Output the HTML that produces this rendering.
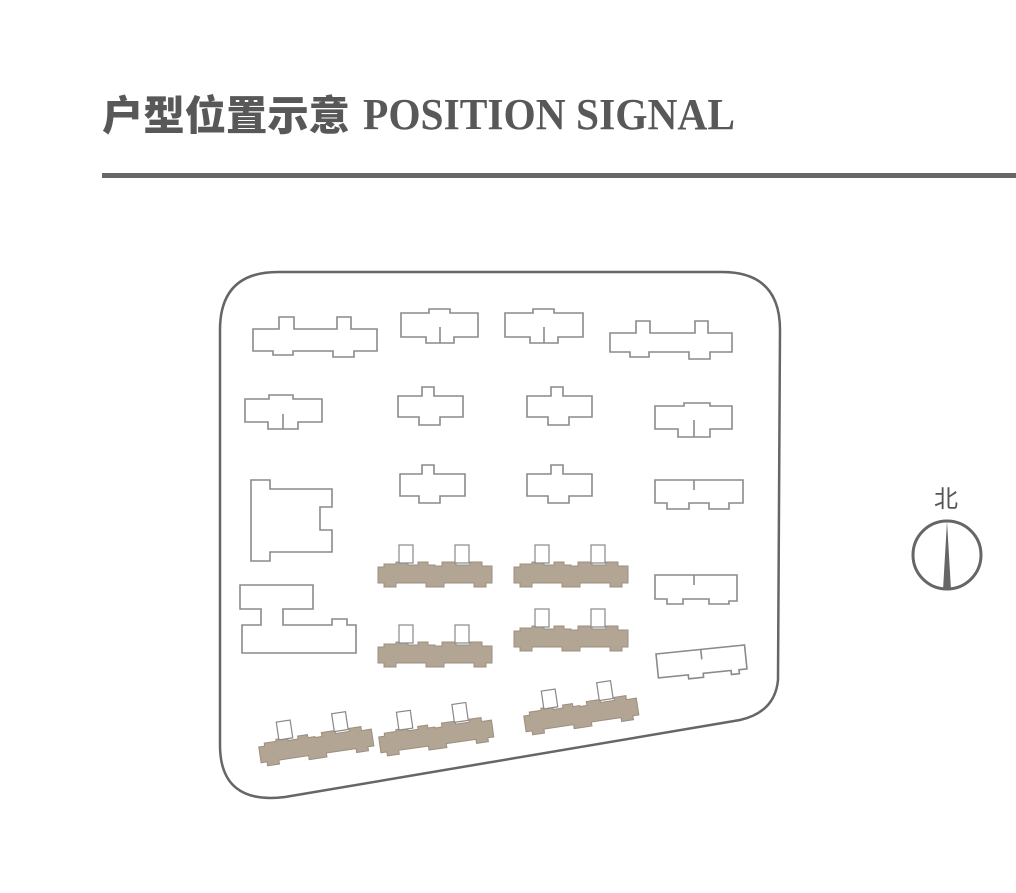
<!DOCTYPE html>
<html><head><meta charset="utf-8"><style>
html,body{margin:0;padding:0;background:#fff;}
svg{display:block;}
</style></head><body>
<svg width="1016" height="893" viewBox="0 0 1016 893" xmlns="http://www.w3.org/2000/svg">
<defs>
<g id="bb">
<path d="M0,5 L6,5 L6,2 L18,2 L18,0 L30,0 L30,3 L40,3 L40,0 L50,0 L50,3 L57,3 L57,4 L64,4 L64,0 L78,0 L78,3 L92,3 L92,0 L104,0 L104,4 L114,4 L114,21 L108,21 L108,25 L96,25 L96,21 L66,21 L66,25 L48,25 L48,21 L18,21 L18,25 L6,25 L6,21 L0,21 Z" fill="#b3a593" stroke="#9c8f80" stroke-width="1"/>
<rect x="21" y="-17" width="14" height="18" fill="#fff" stroke="#888" stroke-width="1.2"/>
<rect x="77" y="-17" width="14" height="18" fill="#fff" stroke="#888" stroke-width="1.2"/>
</g>
</defs>
<text x="102" y="130" font-family="'Noto Sans CJK SC','WenQuanYi Zen Hei',sans-serif" font-weight="900" font-size="41" fill="#585858" textLength="248" lengthAdjust="spacingAndGlyphs">户型位置示意</text>
<text x="363" y="129" font-family="'Liberation Serif',serif" font-weight="bold" font-size="44" fill="#585858" textLength="372" lengthAdjust="spacingAndGlyphs">POSITION SIGNAL</text>
<rect x="102" y="173" width="914" height="5" fill="#666"/>

<path d="M220,330 Q220,272 278,272 L722,272 Q780,272 780,330 L778,680 Q775,712 740,720 L285,797 Q220,805 220,745 Z" fill="none" stroke="#666" stroke-width="2.5"/>

<g fill="#fff" stroke="#8a8a8a" stroke-width="1.6">
<polygon points="253,329 279,329 279,317 294,317 294,329 337,329 337,317 351,317 351,329 377,329 377,351 354,351 354,357 333,357 333,351 293,351 293,355 273,355 273,351 253,351"/>
<polygon points="610,333 636,333 636,321 650,321 650,333 695,333 695,321 708,321 708,333 732,333 732,352 710,352 710,359 689,359 689,352 649,352 649,357 630,357 630,352 610,352"/>
<polygon points="401,313 429,313 429,309 450,309 450,313 478,313 478,337 454,337 454,343 426,343 426,337 401,337"/>
<line x1="440" y1="327" x2="440" y2="343"/>
<polygon points="505,313 533,313 533,309 554,309 554,313 583,313 583,337 558,337 558,343 530,343 530,337 505,337"/>
<line x1="544" y1="327" x2="544" y2="343"/>
<polygon points="245,399 269,399 269,395 293,395 293,399 322,399 322,422 298,422 298,429 268,429 268,422 245,422"/>
<line x1="283" y1="414" x2="283" y2="429"/>
<polygon points="398,396 422,396 422,387 434,387 434,396 463,396 463,417 440,417 440,425 419,425 419,417 398,417"/>
<polygon points="527,396 551,396 551,387 563,387 563,396 592,396 592,417 569,417 569,425 548,425 548,417 527,417"/>
<polygon points="655,406 684,406 684,403 710,403 710,406 732,406 732,429 710,429 710,437 678,437 678,429 655,429"/>
<line x1="694" y1="420" x2="694" y2="437"/>
<polygon points="251,480 270,480 270,489 332,489 332,507 320,507 320,530 332,530 332,552 270,552 270,561 251,561"/>
<polygon points="400,474 422,474 422,465 434,465 434,474 465,474 465,496 440,496 440,503 419,503 419,496 400,496"/>
<polygon points="527,474 551,474 551,465 563,465 563,474 592,474 592,496 569,496 569,503 548,503 548,496 527,496"/>
<polygon points="655,480 743,480 743,503 729,503 729,509 709,509 709,503 689,503 689,509 667,509 667,503 655,503"/>
<line x1="694" y1="480" x2="694" y2="490"/>
<polygon points="240,585 313,585 313,609 283,609 283,625 332,625 332,619 347,619 347,625 356,625 356,653 242,653 242,625 261,625 261,609 240,609"/>
<polygon points="655,575 737,575 737,601 729,601 729,604 709,604 709,599 683,599 683,604 667,604 667,599 655,599"/>
<line x1="694" y1="575" x2="694" y2="585"/>
<g transform="translate(656,654) rotate(-5.8)">
<polygon points="0,0 89,0 89,24 81,24 81,28 73,28 73,24 45,24 45,28 30,28 30,24 0,24"/>
<line x1="45" y1="0" x2="45" y2="10"/>
</g>
</g>

<use href="#bb" transform="translate(378,562)"/>
<use href="#bb" transform="translate(514,562)"/>
<use href="#bb" transform="translate(378,642)"/>
<use href="#bb" transform="translate(514,626)"/>
<use href="#bb" transform="translate(258,742) rotate(-8.5)"/>
<use href="#bb" transform="translate(378,732) rotate(-8)"/>
<use href="#bb" transform="translate(523,711) rotate(-8.5)"/>

<text x="946" y="507" text-anchor="middle" font-family="'Noto Sans CJK SC',sans-serif" font-size="24" fill="#555">北</text>
<circle cx="947" cy="555" r="34" fill="none" stroke="#666" stroke-width="3"/>
<polygon points="947,521 943,590 951,590" fill="#666"/>
</svg>
</body></html>
